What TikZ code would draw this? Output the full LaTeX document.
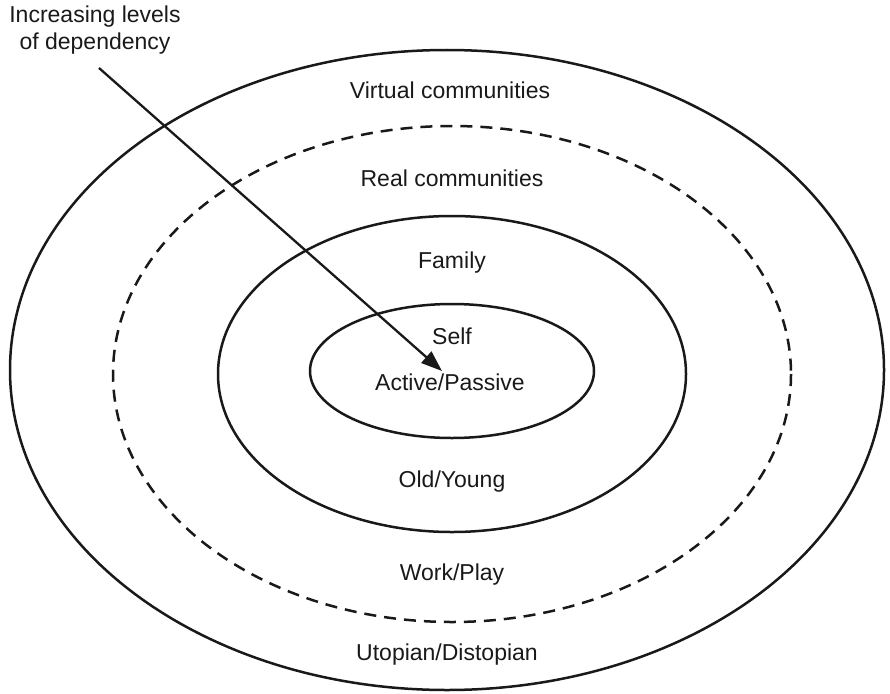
\documentclass[tikz,border=0pt]{standalone}
\usepackage{fontspec}
\setmainfont{Liberation Sans}
\usetikzlibrary{arrows.meta}
\begin{document}
\begin{tikzpicture}[x=1pt,y=-1pt,
  ring/.style={line width=2.5pt, draw=black!90},
  dashring/.style={ring, dash pattern=on 12pt off 8pt},
  label/.style={font=\fontsize{23}{27}\selectfont, text=black!90, inner sep=0pt},
  pointer/.style={line width=2.3pt, draw=black!90, -{Triangle[length=21pt,width=15pt]}}]
  \useasboundingbox (0,0) rectangle (890,693);

  % nested circles of dependency
  \draw[ring]     (447,370) ellipse [x radius=437, y radius=320];
  \draw[dashring] (452,374) ellipse [x radius=339, y radius=248];
  \draw[ring]     (452,374) ellipse [x radius=234, y radius=158];
  \draw[ring]     (452,371) ellipse [x radius=142, y radius=67];

  % ring labels
  \node[label] (virtual) at (450,90)  {Virtual communities};
  \node[label] (real)    at (452,178) {Real communities};
  \node[label] (family)  at (452,263) {Family};
  \node[label] (self)    at (452,336) {Self};
  \node[label] (active)  at (450,382) {Active/Passive};
  \node[label] (old)     at (452,482) {Old/Young};
  \node[label] (work)    at (452,575) {Work/Play};
  \node[label] (utopian) at (447,655) {Utopian/Distopian};

  % dependency pointer
  \node[label, align=center] (levels) at (95,30) {Increasing levels\\of dependency};
  \coordinate (start) at (99,68);
  \coordinate (core)  at (442,371);
  \draw[pointer] (start) -- (core);
\end{tikzpicture}
\end{document}
